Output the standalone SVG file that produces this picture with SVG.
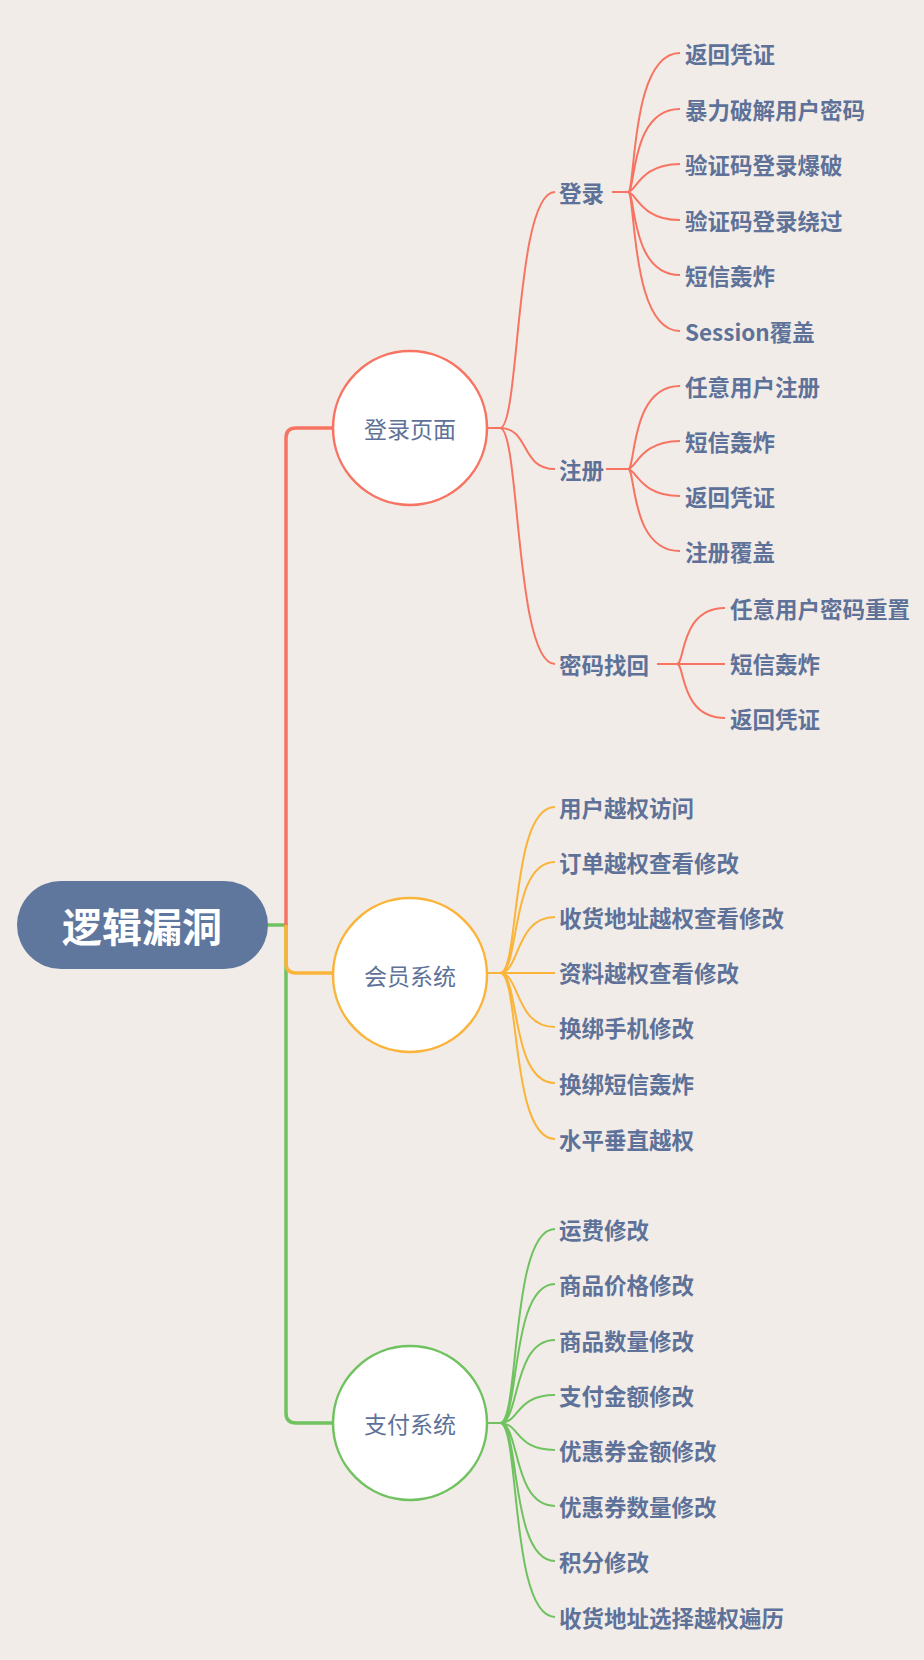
<svg xmlns="http://www.w3.org/2000/svg" width="924" height="1660" viewBox="0 0 924 1660">
<style>
.l{font-family:"Noto Sans CJK SC","Liberation Sans",sans-serif;font-weight:bold;font-size:22.5px;fill:#5e7299;dominant-baseline:central}
.c{font-family:"Noto Sans CJK SC","Liberation Sans",sans-serif;font-size:23px;fill:#5e7299;text-anchor:middle;dominant-baseline:central}
.r{stroke:#f87462;fill:none;stroke-width:2}
.o{stroke:#fbb43a;fill:none;stroke-width:2}
.g{stroke:#6fc25f;fill:none;stroke-width:2}
.t{stroke-width:3.5}
.n{stroke-width:2.5;fill:#fff}
</style>
<rect width="924" height="1660" fill="#f1ece8"/>
<g id="connectors">
<path class="g t" d="M268 925H286V1413Q286 1423 296 1423H333"/>
<path class="r t" d="M286 925V438Q286 428 296 428H333"/>
<path class="o t" d="M286 925V963Q286 973 296 973H333"/>
<path class="r" d="M487 428H500C520 428 515 192 555 192M500 428C530 428 520 469 555 469M500 428C520 428 515 664 555 664"/>
<path class="r" d="M612 192H628M628 192C636 192 630 53 680 53M628 192C636 192 630 109 680 109M628 192C636 192 640 164 680 164M628 192C636 192 640 220 680 220M628 192C636 192 630 275 680 275M628 192C636 192 630 331 680 331"/>
<path class="r" d="M606 469H628M628 469C636 469 630 386 680 386M628 469C636 469 640 441 680 441M628 469C636 469 640 496 680 496M628 469C636 469 630 551 680 551"/>
<path class="r" d="M657 664H725M677 664C685 664 680 608 725 608M677 664C685 664 680 718 725 718"/>
<path class="o" d="M487 973H500M500 973C520 973 510 807 555 807M500 973C520 973 510 862 555 862M500 973C520 973 515 917 555 917M500 973H555M500 973C520 973 515 1027 555 1027M500 973C520 973 510 1083 555 1083M500 973C520 973 510 1139 555 1139"/>
<path class="g" d="M487 1423H500M500 1423C520 1423 510 1229 555 1229M500 1423C520 1423 510 1284 555 1284M500 1423C520 1423 512 1340 555 1340M500 1423C520 1423 515 1395 555 1395M500 1423C520 1423 515 1450 555 1450M500 1423C520 1423 512 1506 555 1506M500 1423C520 1423 510 1561 555 1561M500 1423C520 1423 510 1617 555 1617"/>
</g>
<g id="root"><rect x="17" y="881" width="251" height="88" rx="44" fill="#5f769d"/><text x="142" y="925" font-family="Noto Sans CJK SC,sans-serif" font-weight="bold" font-size="40" fill="#fff" text-anchor="middle" dominant-baseline="central">逻辑漏洞</text></g>
<g id="login"><circle cx="410" cy="428" r="77" class="r n"/><text class="c" x="410" y="428">登录页面</text></g>
<g id="member"><circle cx="410" cy="975" r="77" class="o n"/><text class="c" x="410" y="975">会员系统</text></g>
<g id="pay"><circle cx="410" cy="1423" r="77" class="g n"/><text class="c" x="410" y="1423">支付系统</text></g>
<g id="login-items">
<text class="l" x="559" y="192">登录</text><text class="l" x="559" y="469">注册</text><text class="l" x="559" y="664">密码找回</text>
<text class="l" x="685" y="53">返回凭证</text><text class="l" x="685" y="109">暴力破解用户密码</text><text class="l" x="685" y="164">验证码登录爆破</text><text class="l" x="685" y="220">验证码登录绕过</text><text class="l" x="685" y="275">短信轰炸</text><text class="l" x="685" y="331" font-weight="normal">Session覆盖</text>
<text class="l" x="685" y="386">任意用户注册</text><text class="l" x="685" y="441">短信轰炸</text><text class="l" x="685" y="496">返回凭证</text><text class="l" x="685" y="551">注册覆盖</text>
<text class="l" x="730" y="608">任意用户密码重置</text><text class="l" x="730" y="663">短信轰炸</text><text class="l" x="730" y="718">返回凭证</text>
</g>
<g id="member-items">
<text class="l" x="559" y="807">用户越权访问</text><text class="l" x="559" y="862">订单越权查看修改</text><text class="l" x="559" y="917">收货地址越权查看修改</text><text class="l" x="559" y="972">资料越权查看修改</text><text class="l" x="559" y="1027">换绑手机修改</text><text class="l" x="559" y="1083">换绑短信轰炸</text><text class="l" x="559" y="1139">水平垂直越权</text>
</g>
<g id="pay-items">
<text class="l" x="559" y="1229">运费修改</text><text class="l" x="559" y="1284">商品价格修改</text><text class="l" x="559" y="1340">商品数量修改</text><text class="l" x="559" y="1395">支付金额修改</text><text class="l" x="559" y="1450">优惠券金额修改</text><text class="l" x="559" y="1506">优惠券数量修改</text><text class="l" x="559" y="1561">积分修改</text><text class="l" x="559" y="1617">收货地址选择越权遍历</text>
</g>
</svg>
